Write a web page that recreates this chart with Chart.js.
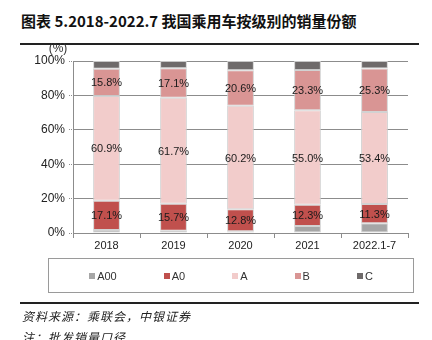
<!DOCTYPE html>
<html>
<head>
<meta charset="utf-8">
<script src="https://cdn.jsdelivr.net/npm/chart.js@4/dist/chart.umd.min.js"></script>
<style>
  body { margin: 0; width: 432px; height: 340px; overflow: hidden; background: #fff; position: relative;
         font-family: "Liberation Sans", Arial, sans-serif; color: #111; }
  #grafico { position: absolute; left: 0; top: 0; }
  #titulo { position: absolute; left: 21px; top: 10px; line-height: 22px; white-space: nowrap;
            font: bold 15px "Noto Sans CJK SC", sans-serif; }
  .linha { position: absolute; left: 20px; width: 399px; height: 1.5px; background: #222; }
  #legenda { position: absolute; left: 48px; top: 258px; width: 364px; height: 33px;
             border: 1px solid #9a9a9a; display: flex; justify-content: center; align-items: center; gap: 47px; }
  .item { display: flex; align-items: center; font: 11px "Liberation Sans Narrow", "Liberation Sans", sans-serif; color: #333; }
  .item i { display: inline-block; width: 6px; height: 6px; margin-right: 2px; }
  .fonte { position: absolute; left: 22px; line-height: 18px; white-space: nowrap; font: italic 12px "Noto Sans CJK SC", sans-serif;
           letter-spacing: 1px; color: #222; }
</style>
</head>
<body>
<div id="titulo">图表 5.2018-2022.7 我国乘用车按级别的销量份额</div>
<div class="linha" style="top:43px"></div>
<canvas id="grafico" width="432" height="340"></canvas>
<div id="legenda"></div>
<div class="linha" style="top:302px"></div>
<div class="fonte" style="top:307px">资料来源：乘联会，中银证券</div>
<div class="fonte" style="top:328px">注：批发销量口径</div>
<script>
  // 年份 / 级别
  var anos = ['2018', '2019', '2020', '2021', '2022.1-7'];
  var niveis = ['A00', 'A0', 'A', 'B', 'C'];

  // 各级别销量份额 (%)
  var shareA00 = [1.7, 1.3, 1.0, 4.1, 5.6];
  var shareA0 = [17.1, 15.7, 12.8, 12.3, 11.3];
  var shareA = [60.9, 61.7, 60.2, 55.0, 53.4];
  var shareB = [15.8, 17.1, 20.6, 23.3, 25.3];
  var shareC = [4.5, 4.2, 5.4, 5.3, 4.4];

  var yTicks = [0, 20, 40, 60, 80, 100];

  var cores = ['#a6a6a6', '#c0504d', '#f2cccb', '#d99594', '#6e6a6a'];
  var series = [shareA00, shareA0, shareA, shareB, shareC];
  var comRotulo = [false, true, true, true, false];

  var datasets = series.map(function (valores, i) {
    return {
      label: niveis[i],
      data: valores,
      backgroundColor: cores[i],
      borderColor: 'rgba(205,205,205,0.9)',
      borderWidth: 1,
      borderSkipped: false,
      barPercentage: 0.4,
      categoryPercentage: 1,
      rotulo: comRotulo[i]
    };
  });

  // 在每段柱子中间写数值
  var rotulosPlugin = {
    id: 'rotulos',
    afterDatasetsDraw: function (chart) {
      var ctx = chart.ctx;
      ctx.save();
      ctx.font = '11px "Liberation Sans", Arial, sans-serif';
      ctx.fillStyle = '#1a1a1a';
      ctx.textAlign = 'center';
      ctx.textBaseline = 'middle';
      chart.data.datasets.forEach(function (ds, i) {
        if (!ds.rotulo) return;
        chart.getDatasetMeta(i).data.forEach(function (bar, j) {
          var p = bar.getProps(['x', 'y', 'base'], true);
          ctx.fillText(ds.data[j].toFixed(1) + '%', p.x, (p.y + p.base) / 2 + 1);
        });
      });
      // 纵轴单位
      ctx.font = '12px "Liberation Sans", Arial, sans-serif';
      ctx.fillStyle = '#333';
      ctx.fillText('(%)', 58, 49);
      ctx.restore();
    }
  };

  var ctx1 = document.getElementById('grafico').getContext('2d');
  var chart = new Chart(ctx1, {
    type: 'bar',
    data: { labels: anos, datasets: datasets },
    options: {
      responsive: false,
      animation: false,
      devicePixelRatio: 1,
      layout: { padding: { left: 0, right: 24, top: 61, bottom: 87 } },
      plugins: { legend: { display: false }, tooltip: { enabled: false } },
      scales: {
        x: {
          stacked: true,
          afterFit: function (s) { s.height = 20; },
          border: { display: true, color: '#8c8c8c', width: 1 },
          grid: { offset: true, drawOnChartArea: false, drawTicks: true, tickLength: 5, color: '#8c8c8c' },
          ticks: { padding: 1, color: '#222', font: { size: 11, family: '"Liberation Sans", Arial, sans-serif' } }
        },
        y: {
          stacked: true,
          min: 0,
          max: 100,
          afterFit: function (s) { s.width = 73; },
          afterBuildTicks: function (s) { s.ticks = yTicks.map(function (v) { return { value: v }; }); },
          border: { display: true, color: '#8c8c8c', width: 1 },
          grid: { color: '#8c8c8c', lineWidth: 1, tickLength: 4, drawTicks: true, tickBorderDash: [1, 1] },
          ticks: {
            padding: 4,
            color: '#222',
            font: { size: 12, family: '"Liberation Sans", Arial, sans-serif' },
            callback: function (v) { return v + '%'; }
          }
        }
      }
    },
    plugins: [rotulosPlugin]
  });

  // 网格线改成点线
  chart.options.scales.y.grid.borderDash = [2, 1];
  chart.update();

  // 图例，用同样的级别和颜色生成
  var legenda = document.getElementById('legenda');
  niveis.forEach(function (nome, i) {
    var item = document.createElement('span');
    item.className = 'item';
    item.innerHTML = '<i style="background:' + cores[i] + '"></i>' + nome;
    legenda.appendChild(item);
  });
</script>
</body>
</html>
